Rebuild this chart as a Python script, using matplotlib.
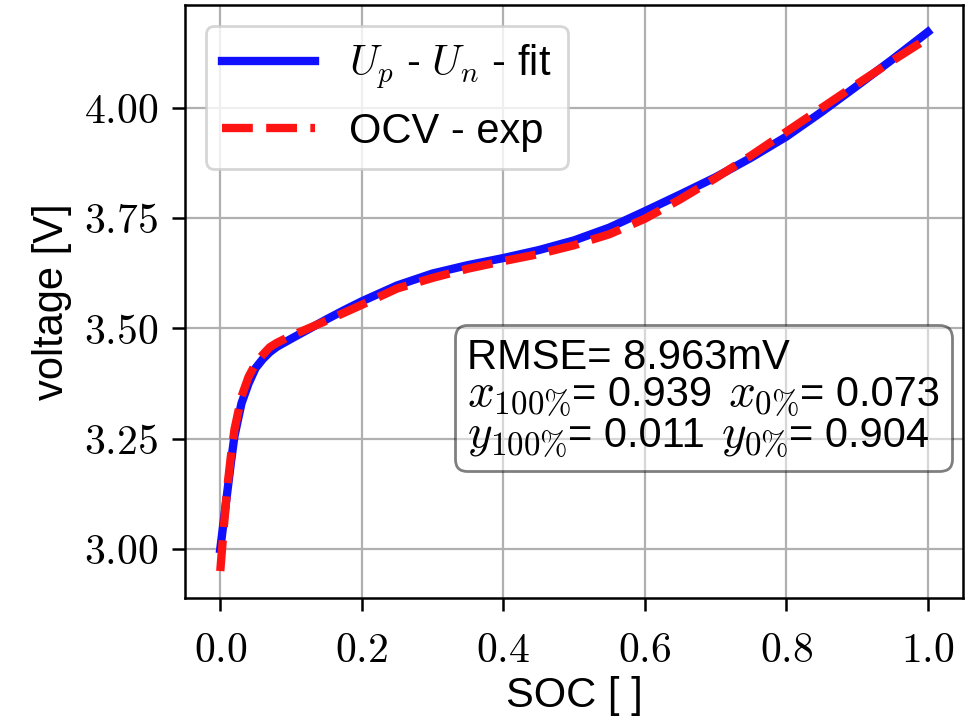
import matplotlib
matplotlib.use("Agg")
import matplotlib.pyplot as plt
from matplotlib.ticker import FormatStrFormatter, MultipleLocator
from matplotlib.offsetbox import TextArea, HPacker, VPacker, AnchoredOffsetbox

plt.rcParams["font.family"] = ["Liberation Sans", "DejaVu Sans"]
plt.rcParams["mathtext.fontset"] = "cm"

# Fitted electrode-potential difference U_p - U_n
soc_fit = [0.0, 0.005, 0.01, 0.015, 0.02, 0.03, 0.04, 0.05, 0.06, 0.07, 0.08,
           0.09, 0.1, 0.125, 0.15, 0.175, 0.2, 0.25, 0.3, 0.35, 0.4, 0.45,
           0.5, 0.55, 0.6, 0.65, 0.7, 0.75, 0.8, 0.85, 0.9, 0.95, 1.0]
u_fit = [3.000, 3.065, 3.130, 3.195, 3.255, 3.330, 3.375, 3.410, 3.430, 3.446,
         3.458, 3.467, 3.476, 3.498, 3.520, 3.541, 3.561, 3.597, 3.624, 3.643,
         3.659, 3.677, 3.699, 3.728, 3.765, 3.803, 3.842, 3.886, 3.934, 3.990,
         4.049, 4.109, 4.171]

# Measured open-circuit voltage
soc_exp = [0.0, 0.005, 0.01, 0.015, 0.02, 0.03, 0.04, 0.05, 0.06, 0.07, 0.08,
           0.09, 0.1, 0.125, 0.15, 0.175, 0.2, 0.25, 0.3, 0.35, 0.4, 0.45,
           0.5, 0.55, 0.6, 0.65, 0.7, 0.75, 0.8, 0.85, 0.9, 0.95, 1.0]
ocv_exp = [2.950, 3.050, 3.140, 3.210, 3.270, 3.345, 3.390, 3.420, 3.440, 3.457,
           3.467, 3.475, 3.483, 3.500, 3.517, 3.535, 3.553, 3.590, 3.614, 3.635,
           3.652, 3.668, 3.688, 3.713, 3.748, 3.792, 3.840, 3.891, 3.945, 3.999,
           4.053, 4.106, 4.157]

rmse_mv = 8.963
x100, x0 = 0.939, 0.073
y100, y0 = 0.011, 0.904

fig, ax = plt.subplots(figsize=(4.84, 3.62), dpi=200)
fig.subplots_adjust(left=0.191, right=0.995, top=0.993, bottom=0.174)

ax.plot(soc_fit, u_fit, color="#1010ff", lw=3, label="$U_p$ - $U_n$ - fit",
        zorder=3)
ax.plot(soc_exp, ocv_exp, color="#ff1414", lw=3, ls="--",
        label="OCV - exp", zorder=4)

ax.grid(True, color="#b0b0b0", lw=0.8)
ax.set_axisbelow(True)

ax.xaxis.set_major_locator(MultipleLocator(0.2))
ax.yaxis.set_major_locator(MultipleLocator(0.25))
ax.xaxis.set_major_formatter(FormatStrFormatter("$%.1f$"))
ax.yaxis.set_major_formatter(FormatStrFormatter("$%.2f$"))
ax.tick_params(axis="both", labelsize=15, length=4.7, width=0.9)
ax.tick_params(axis="x", pad=7)
ax.tick_params(axis="y", pad=5)
for s in ax.spines.values():
    s.set_linewidth(0.9)

ax.set_xlabel("SOC [ ]", fontsize=15, labelpad=2)
ax.set_ylabel("voltage [V]", fontsize=15, labelpad=4)

ax.legend(loc="upper left", fontsize=15, handlelength=2.23,
          framealpha=0.8)

# Fit summary box: sans-serif text mixed with slightly larger math symbols
TXT = 15
MATH = 17


def piece(sym, value):
    return HPacker(children=[
        TextArea(sym, textprops=dict(fontsize=MATH)),
        TextArea(value, textprops=dict(fontsize=TXT)),
    ], align="baseline", pad=0, sep=0)


line1 = TextArea(f"RMSE= {rmse_mv:.3f}mV", textprops=dict(fontsize=TXT))
line2 = HPacker(children=[piece(r"$x_{100\%}$", f"= {x100:.3f}"),
                          piece(r"$x_{0\%}$", f"= {x0:.3f}")],
                align="baseline", pad=0, sep=6)
line3 = HPacker(children=[piece(r"$y_{100\%}$", f"= {y100:.3f}"),
                          piece(r"$y_{0\%}$", f"= {y0:.3f}")],
                align="baseline", pad=0, sep=6)
stack = VPacker(children=[line1, line2, line3], align="left", pad=0, sep=-2)

box = AnchoredOffsetbox(loc="upper left", child=stack, pad=0.3, borderpad=0,
                        frameon=True, prop=dict(size=TXT),
                        bbox_to_anchor=(0.347, 0.460),
                        bbox_transform=ax.transAxes)
box.patch.set_boxstyle("round", pad=0, rounding_size=0.3)
box.patch.set_facecolor("white")
box.patch.set_edgecolor("black")
box.patch.set_linewidth(1.0)
box.patch.set_alpha(0.5)
ax.add_artist(box)

fig.savefig("out.png", dpi=200)
